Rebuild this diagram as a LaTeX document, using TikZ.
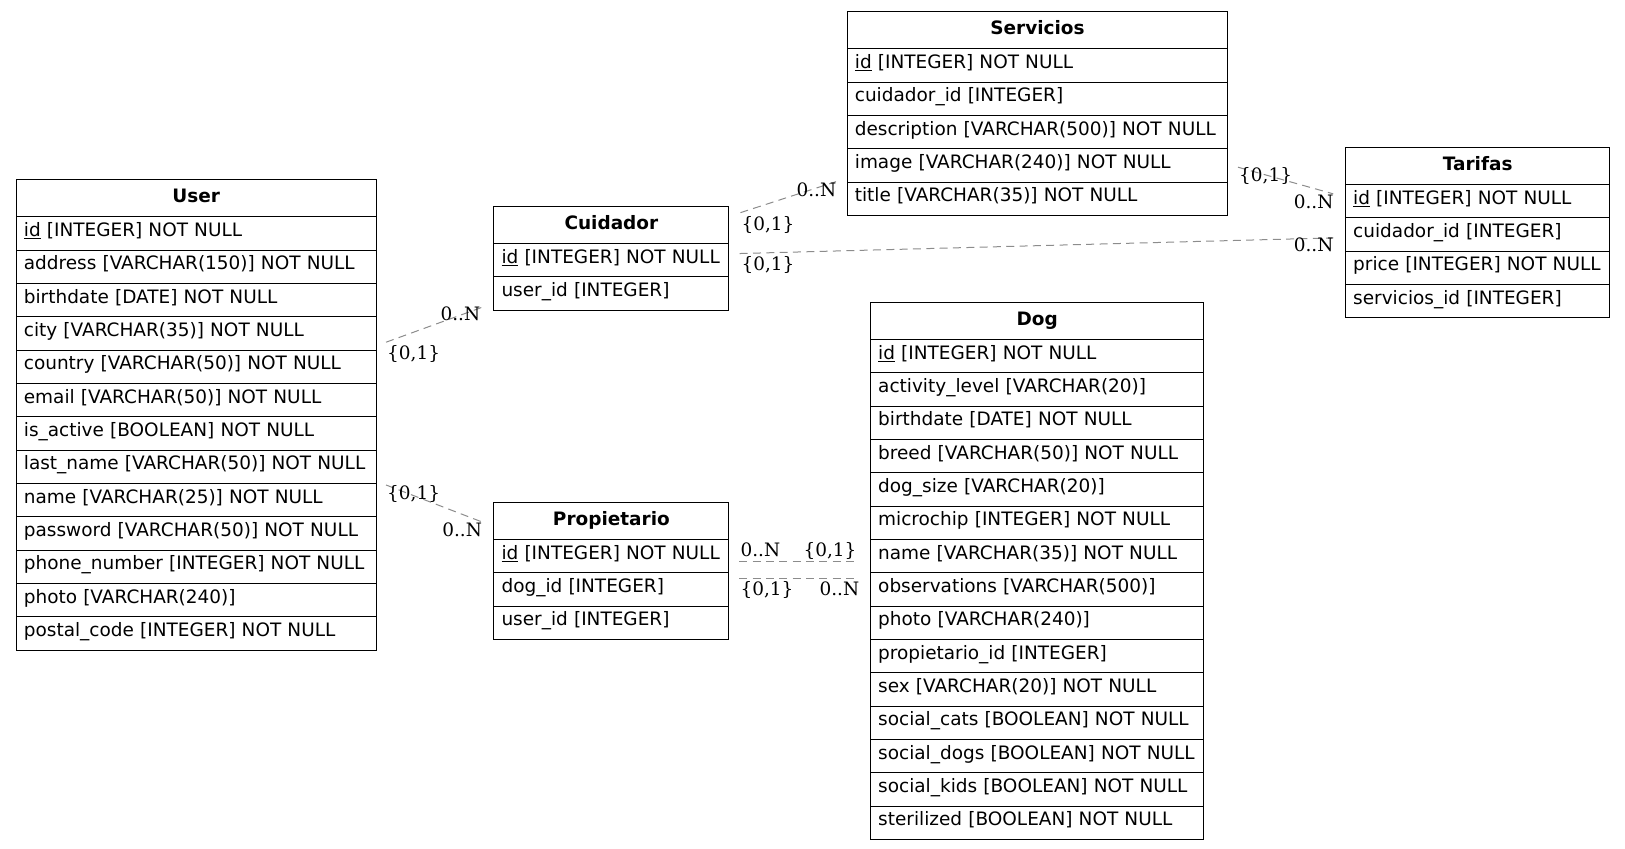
\documentclass[tikz,border=0pt]{standalone}
\usepackage{fontspec}
\newfontfamily\erfont{DejaVu Sans}
\newfontfamily\cardfont{DejaVu Serif}

\tikzset{
  tblhead/.style={rectangle, draw, anchor=north west,
                  text width=#1, align=center,
                  inner xsep=5.75pt, inner ysep=0pt,
                  text height=17.5pt, text depth=10.5pt,
                  font=\erfont\fontsize{13.85pt}{16pt}\selectfont\bfseries},
  tblrow/.style={rectangle, draw, anchor=north west,
                 text width=#1, align=left,
                 inner xsep=5.75pt, inner ysep=0pt,
                 text height=14.6pt, text depth=10.4pt,
                 font=\erfont\fontsize{13.85pt}{16pt}\selectfont},
  rel/.style={draw=black!45, line width=0.75pt, dash pattern=on 6pt off 4pt},
  card/.style={anchor=base west, inner sep=0pt,
               font=\cardfont\fontsize{13.85pt}{16pt}\selectfont}
}

\begin{document}
\begin{tikzpicture}[x=1pt, y=-1pt, line width=0.8pt]

    \useasboundingbox (0,0) rectangle (1218.75,636.75);

    % User
    \node[tblhead=258.5pt] (user) at (11.75,134.25) {User};
    \foreach \txt [count=\i] in {\underline{id} [INTEGER] NOT NULL,
        address [VARCHAR(150)] NOT NULL, birthdate [DATE] NOT NULL,
        city [VARCHAR(35)] NOT NULL, country [VARCHAR(50)] NOT NULL,
        email [VARCHAR(50)] NOT NULL, is\_active [BOOLEAN] NOT NULL,
        last\_name [VARCHAR(50)] NOT NULL, name [VARCHAR(25)] NOT NULL,
        password [VARCHAR(50)] NOT NULL, phone\_number [INTEGER] NOT NULL,
        photo [VARCHAR(240)], postal\_code [INTEGER] NOT NULL}
      \node[tblrow=258.5pt] (user-\i) at (11.75,{162.25+(\i-1)*25}) {\mbox{\txt}};

    % Cuidador
    \node[tblhead=164.75pt] (cuid) at (370,154.25) {Cuidador};
    \foreach \txt [count=\i] in {\underline{id} [INTEGER] NOT NULL,
        user\_id [INTEGER]}
      \node[tblrow=164.75pt] (cuid-\i) at (370,{182.25+(\i-1)*25}) {\mbox{\txt}};

    % Propietario
    \node[tblhead=164.75pt] (prop) at (370,376.25) {Propietario};
    \foreach \txt [count=\i] in {\underline{id} [INTEGER] NOT NULL,
        dog\_id [INTEGER], user\_id [INTEGER]}
      \node[tblrow=164.75pt] (prop-\i) at (370,{404.25+(\i-1)*25}) {\mbox{\txt}};

    % Servicios
    \node[tblhead=274pt] (serv) at (635,8.25) {Servicios};
    \foreach \txt [count=\i] in {\underline{id} [INTEGER] NOT NULL,
        cuidador\_id [INTEGER], description [VARCHAR(500)] NOT NULL,
        image [VARCHAR(240)] NOT NULL, title [VARCHAR(35)] NOT NULL}
      \node[tblrow=274pt] (serv-\i) at (635,{36.25+(\i-1)*25}) {\mbox{\txt}};

    % Tarifas
    \node[tblhead=186.75pt] (tarif) at (1008.75,110) {Tarifas};
    \foreach \txt [count=\i] in {\underline{id} [INTEGER] NOT NULL,
        cuidador\_id [INTEGER], price [INTEGER] NOT NULL,
        servicios\_id [INTEGER]}
      \node[tblrow=186.75pt] (tarif-\i) at (1008.75,{138+(\i-1)*25}) {\mbox{\txt}};

    % Dog
    \node[tblhead=238.5pt] (dog) at (652.5,226.25) {Dog};
    \foreach \txt [count=\i] in {\underline{id} [INTEGER] NOT NULL,
        activity\_level [VARCHAR(20)], birthdate [DATE] NOT NULL,
        breed [VARCHAR(50)] NOT NULL, dog\_size [VARCHAR(20)],
        microchip [INTEGER] NOT NULL, name [VARCHAR(35)] NOT NULL,
        observations [VARCHAR(500)], photo [VARCHAR(240)],
        propietario\_id [INTEGER], sex [VARCHAR(20)] NOT NULL,
        social\_cats [BOOLEAN] NOT NULL, social\_dogs [BOOLEAN] NOT NULL,
        social\_kids [BOOLEAN] NOT NULL, sterilized [BOOLEAN] NOT NULL}
      \node[tblrow=238.5pt] (dog-\i) at (652.5,{254.25+(\i-1)*25}) {\mbox{\txt}};

    % relations
    \draw[rel] ([shift={(7,6.5)}]user-4.east) -- ([shift={(-8,-2.75)}]cuid-2.south west);
    \draw[rel] ([shift={(8.25,5.25)}]cuid.north east) -- ([shift={(-8,0)}]serv-5.north west);
    \draw[rel] ([shift={(7.7,-5)}]cuid-1.east) -- ([shift={(-8.75,2.5)}]tarif-2.west);
    \draw[rel] ([shift={(7.2,1.25)}]serv-4.east) -- ([shift={(-8.75,-5.5)}]tarif-1.west);
    \draw[rel] ([shift={(7,1.5)}]user-9.north east) -- ([shift={(-8,1)}]prop.west);
    \draw[rel] ([shift={(7.5,3.75)}]prop-1.east) -- ([shift={(-8.8,3.75)}]dog-7.west);
    \draw[rel] ([shift={(7.5,-8.25)}]prop-2.east) -- ([shift={(-8.8,-8.25)}]dog-8.west);

    % cardinalities
    \node[card] (c1a) at (290,269.6) {\{0,1\}};
    \node[card] (c1b) at (330,240) {0..N};
    \node[card] (c2a) at (555.75,172.5) {\{0,1\}};
    \node[card] (c2b) at (597,147) {0..N};
    \node[card] (c3a) at (555.75,202.5) {\{0,1\}};
    \node[card] (c3b) at (970,188.8) {0..N};
    \node[card] (c4a) at (929,136.3) {\{0,1\}};
    \node[card] (c4b) at (970,156.2) {0..N};
    \node[card] (c5a) at (290,374.5) {\{0,1\}};
    \node[card] (c5b) at (331.3,402) {0..N};
    \node[card] (c6a) at (555,417.5) {0..N};
    \node[card] (c6b) at (602.3,417.5) {\{0,1\}};
    \node[card] (c7a) at (555,446.25) {\{0,1\}};
    \node[card] (c7b) at (614.3,446.25) {0..N};

\end{tikzpicture}
\end{document}
